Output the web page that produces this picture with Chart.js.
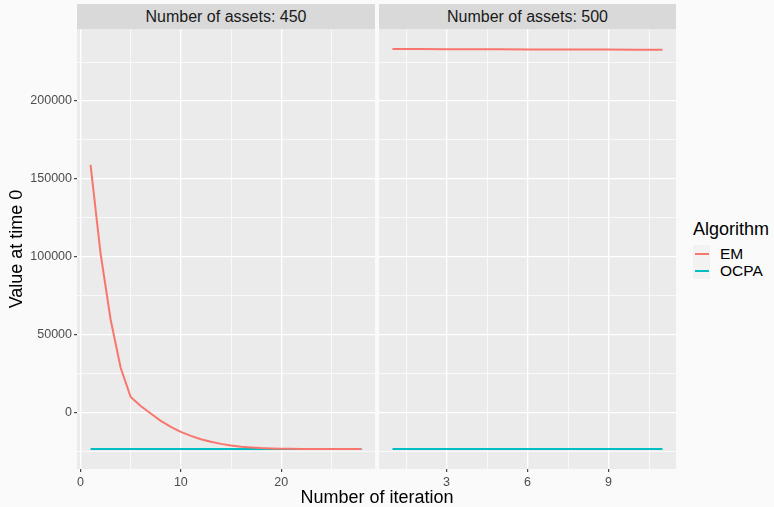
<!DOCTYPE html>
<html>
<head>
<meta charset="utf-8">
<script src="https://cdn.jsdelivr.net/npm/chart.js@4/dist/chart.umd.min.js"></script>
<style>
  html, body { margin: 0; padding: 0; background: #FAFAFA; }
  #wrap { position: relative; width: 774px; height: 507px; overflow: hidden;
          font-family: "Liberation Sans", Arial, sans-serif; }
  canvas { position: absolute; }
  .strip { position: absolute; top: 4px; height: 25px; background: #D9D9D9; color: #1A1A1A;
           font-size: 16px; line-height: 25px; text-align: center; }
  .title { position: absolute; color: #000; font-size: 18px; line-height: 18px; white-space: nowrap; }
  .key { position: absolute; left: 693px; width: 17px; height: 17px; background: #F2F2F2; }
  .key i { position: absolute; left: 1.5px; right: 1.5px; top: 7.5px; height: 2px; }
  .lab { position: absolute; left: 720px; font-size: 15.5px; line-height: 17px; color: #000; }
</style>
</head>
<body>
<div id="wrap">
  <div class="strip" style="left:77px;width:298px">Number of assets: 450</div>
  <div class="strip" style="left:379px;width:297px">Number of assets: 500</div>
  <canvas id="c450" width="375" height="460" style="left:0;top:29px"></canvas>
  <canvas id="c500" width="297" height="460" style="left:379px;top:29px"></canvas>
  <div class="title" style="left:227px;top:488px;width:300px;text-align:center">Number of iteration</div>
  <div class="title" style="left:-134px;top:240px;width:300px;text-align:center;transform:rotate(-90deg)">Value at time 0</div>
  <div class="title" style="left:693px;top:220px">Algorithm</div>
  <div class="key" style="top:245px"><i style="background:#F8766D"></i></div>
  <div class="key" style="top:262px"><i style="background:#00BFC4"></i></div>
  <div class="lab" style="top:245px">EM</div>
  <div class="lab" style="top:262px">OCPA</div>
</div>
<script>
// Value at time 0 per iteration, for each portfolio size
const iter450 = [1, 2, 3, 4, 5, 6, 7, 8, 9, 10, 11, 12, 13, 14, 15, 16, 17, 18, 19, 20, 21, 22, 23, 24, 25, 26, 27, 28];
const em450 = [159000, 102000, 59600, 28600, 9800, 4000, -800, -5500, -9400, -12600, -15200, -17300,
               -19000, -20300, -21400, -22100, -22600, -23000, -23200, -23400, -23500, -23550,
               -23600, -23600, -23600, -23600, -23600, -23600];
const ocpa450 = [-23600, -23600, -23600, -23600, -23600, -23600, -23600, -23600, -23600, -23600,
                 -23600, -23600, -23600, -23600, -23600, -23600, -23600, -23600, -23600, -23600,
                 -23600, -23600, -23600, -23600, -23600, -23600, -23600, -23600];

const iter500 = [1, 2, 3, 4, 5, 6, 7, 8, 9, 10, 11];
const em500 = [233400, 233350, 233300, 233250, 233200, 233150, 233100, 233050, 233000, 232950, 232900];
const ocpa500 = [-23600, -23600, -23600, -23600, -23600, -23600, -23600, -23600, -23600, -23600, -23600];

// Axis breaks (major ones carry labels, minor ones only a thin grid line)
const yBreaks = [-25000, 0, 25000, 50000, 75000, 100000, 125000, 150000, 175000, 200000, 225000];
const yLabels = [0, 50000, 100000, 150000, 200000];
const x450Breaks = [0, 5, 10, 15, 20, 25];
const x450Labels = [0, 10, 20];
const x500Breaks = [1.5, 3, 4.5, 6, 7.5, 9, 10.5];
const x500Labels = [3, 6, 9];

const algoNames = ['EM', 'OCPA'];
const algoColors = ['#F8766D', '#00BFC4'];

// Shared y range: data span padded by 5% on both sides
const allY = em450.concat(ocpa450, em500, ocpa500);
const yLo = Math.min(...allY), yHi = Math.max(...allY);
const yPad = (yHi - yLo) * 0.05;

function padRange(xs, mult, add) {
  const lo = Math.min(...xs), hi = Math.max(...xs);
  const p = (hi - lo) * mult + add;
  return [lo - p, hi + p];
}

const panelBg = {
  id: 'panelBg',
  beforeDraw(chart) {
    const a = chart.chartArea, ctx = chart.ctx;
    ctx.save();
    ctx.fillStyle = '#EBEBEB';
    ctx.fillRect(a.left, a.top, a.right - a.left, a.bottom - a.top);
    ctx.restore();
  }
};

function pts(xs, ys) { return xs.map((x, i) => ({ x: x, y: ys[i] })); }

function makeChart(id, xs, series, xBreaks, xLabels, xRange, showY) {
  const tickFont = { family: '"Liberation Sans", Arial, sans-serif', size: 12.5 };
  return new Chart(document.getElementById(id), {
    type: 'line',
    data: {
      datasets: series.map((ys, k) => ({
        label: algoNames[k],
        data: pts(xs, ys),
        borderColor: algoColors[k],
        borderWidth: 2,
        pointRadius: 0,
        tension: 0,
        fill: false
      }))
    },
    options: {
      responsive: false,
      animation: false,
      devicePixelRatio: 1,
      layout: { padding: 0 },
      plugins: { legend: { display: false }, tooltip: { enabled: false } },
      scales: {
        x: {
          type: 'linear',
          min: xRange[0], max: xRange[1],
          afterBuildTicks(s) { s.ticks = xBreaks.map(v => ({ value: v })); },
          afterFit(s) { s.height = 20; s.paddingLeft = 0; s.paddingRight = 0; },
          ticks: {
            autoSkip: false, maxRotation: 0, minRotation: 0, padding: 3,
            color: '#4D4D4D', font: tickFont,
            callback: v => xLabels.includes(v) ? String(v) : ''
          },
          grid: {
            color: '#FFFFFF',
            lineWidth: c => (c.tick && xLabels.includes(c.tick.value)) ? 1.3 : 0.7,
            tickLength: 3,
            tickWidth: 1.1,
            tickColor: c => (c.tick && xLabels.includes(c.tick.value)) ? '#333333' : 'rgba(0,0,0,0)'
          },
          border: { display: false }
        },
        y: {
          type: 'linear',
          min: yLo - yPad, max: yHi + yPad,
          afterBuildTicks(s) { s.ticks = yBreaks.map(v => ({ value: v })); },
          afterFit(s) { s.width = showY ? 77 : 0; s.paddingTop = 0; s.paddingBottom = 0; },
          ticks: {
            display: showY,
            autoSkip: false, padding: 2,
            color: '#4D4D4D', font: tickFont,
            callback: v => yLabels.includes(v) ? String(v) : ''
          },
          grid: {
            color: '#FFFFFF',
            lineWidth: c => (c.tick && yLabels.includes(c.tick.value)) ? 1.3 : 0.7,
            drawTicks: showY,
            tickLength: 3,
            tickWidth: 1.1,
            tickColor: c => (c.tick && yLabels.includes(c.tick.value)) ? '#333333' : 'rgba(0,0,0,0)'
          },
          border: { display: false }
        }
      }
    },
    plugins: [panelBg]
  });
}

makeChart('c450', iter450, [em450, ocpa450], x450Breaks, x450Labels, padRange(iter450, 0.05, 0), true);
makeChart('c500', iter500, [em500, ocpa500], x500Breaks, x500Labels, padRange(iter500, 0, 0.5), false);
</script>
</body>
</html>
